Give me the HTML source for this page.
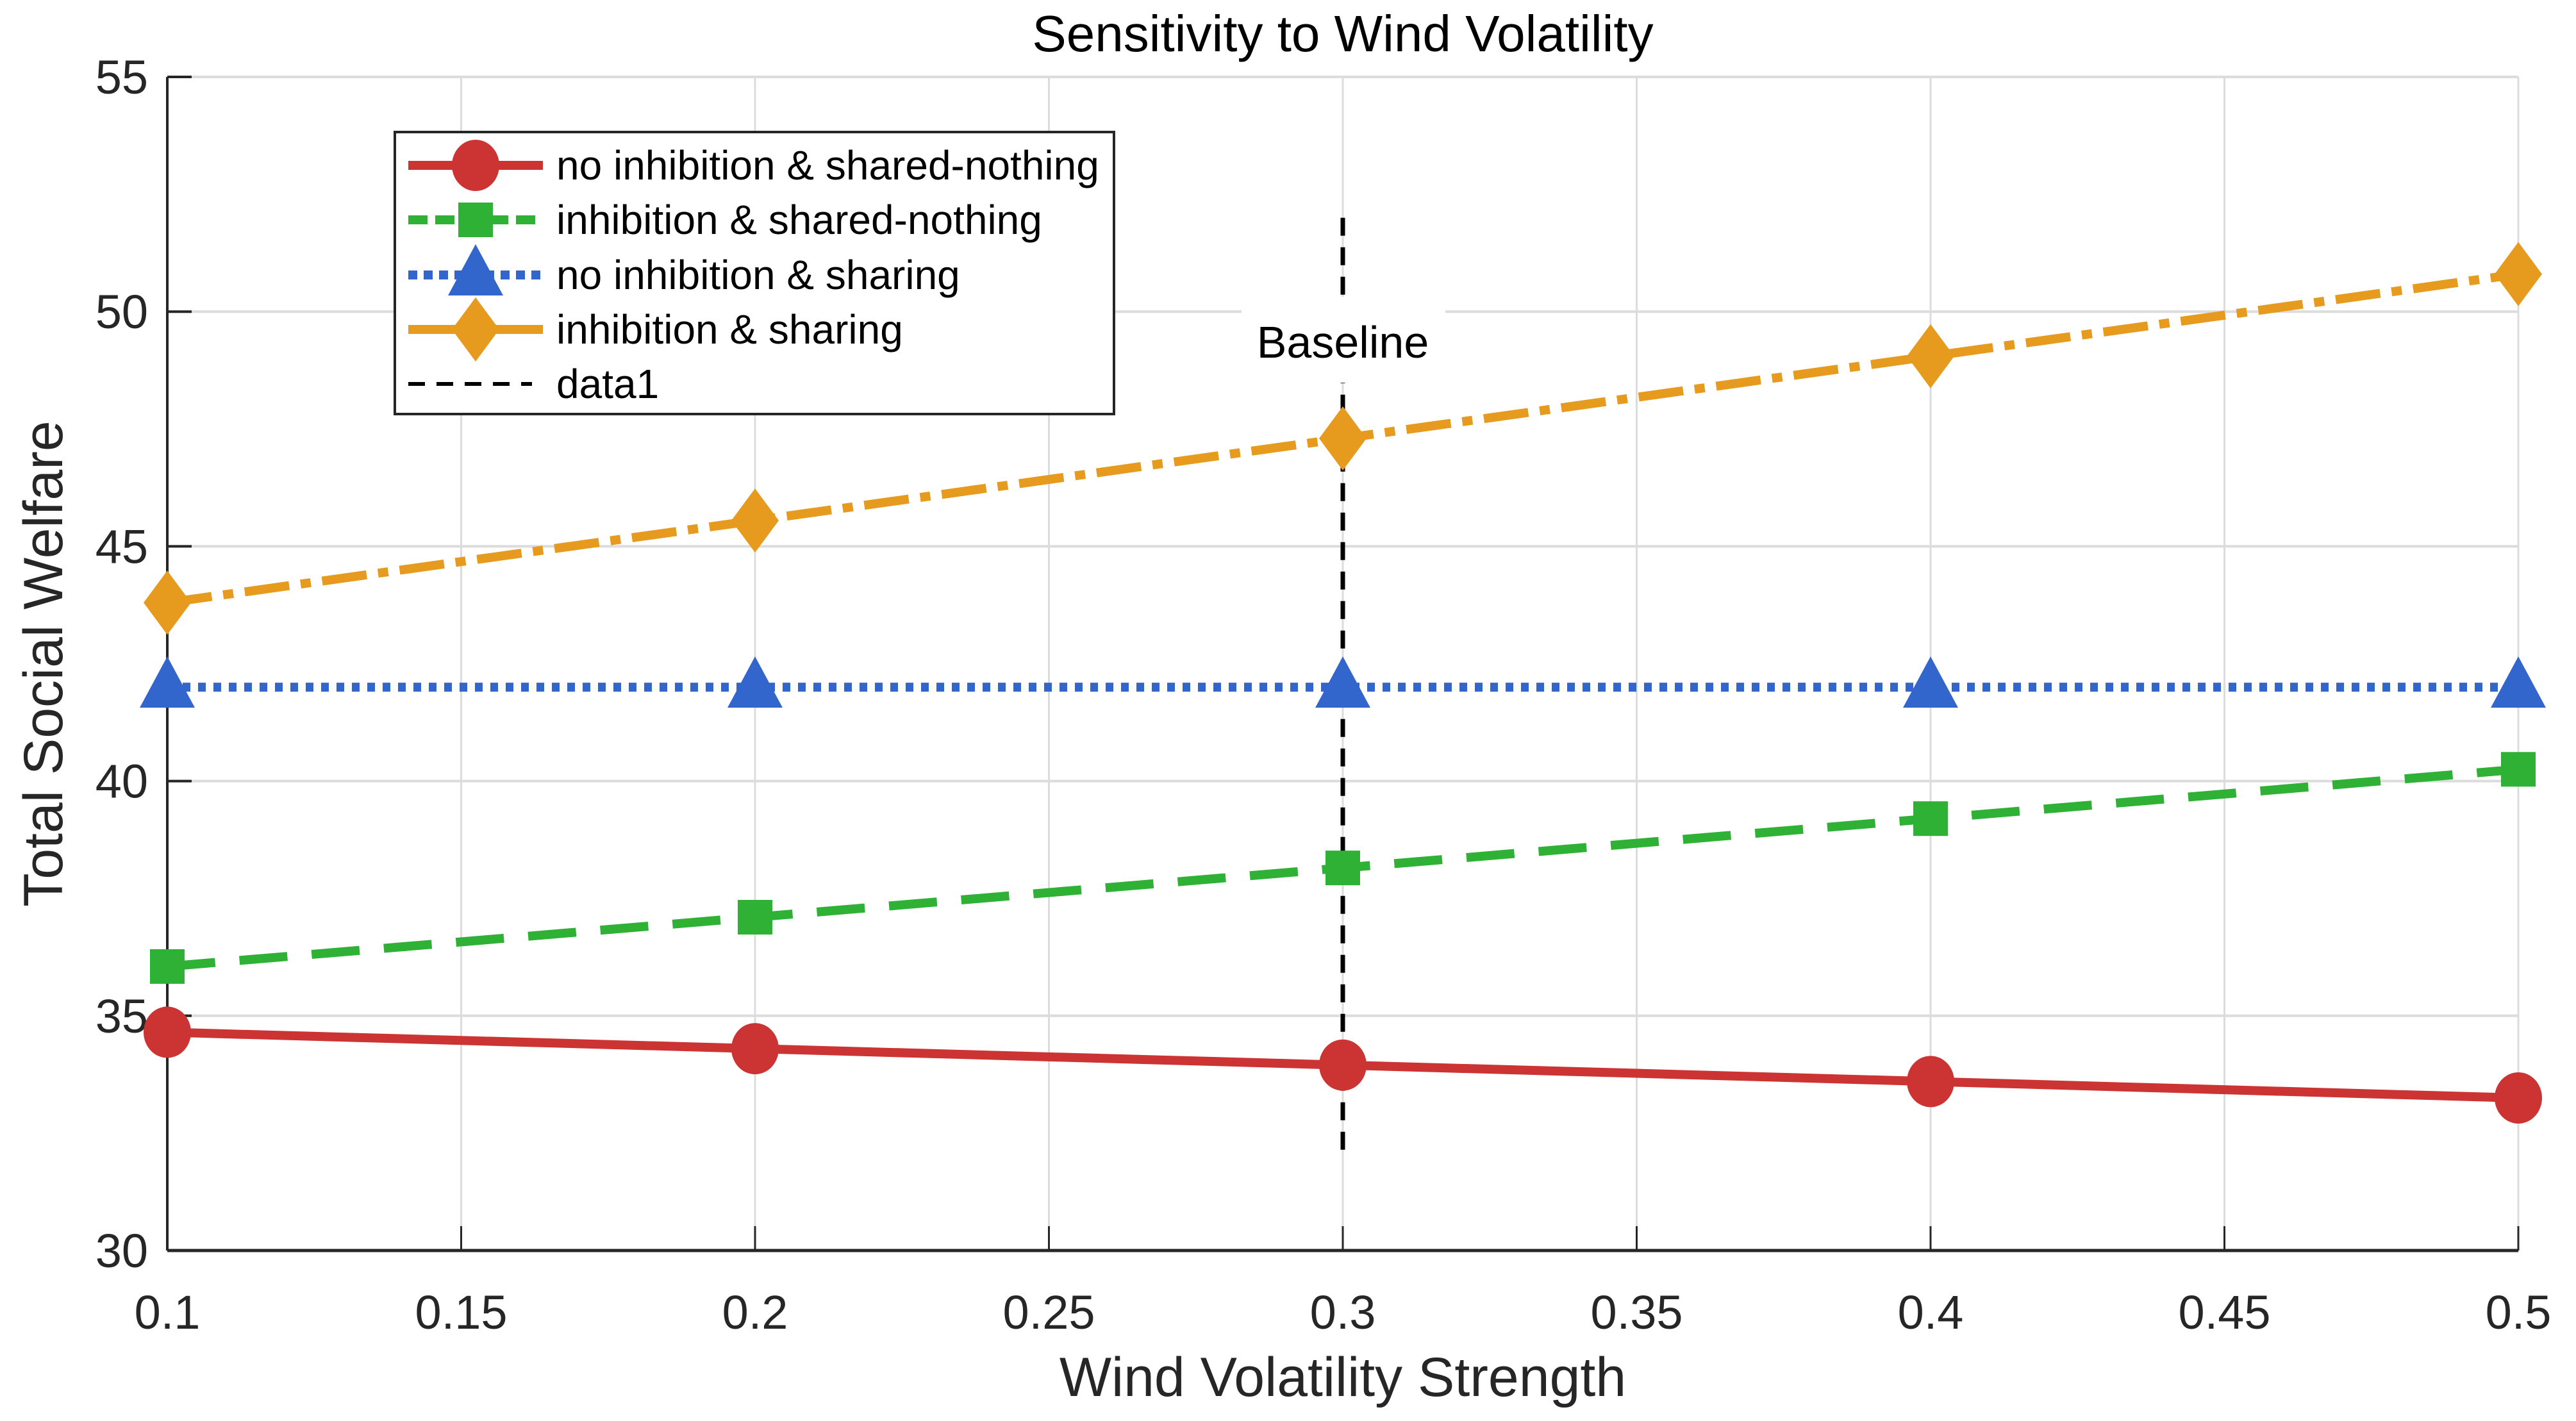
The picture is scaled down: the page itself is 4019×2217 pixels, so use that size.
<!DOCTYPE html>
<html><head><meta charset="utf-8"><style>
html,body{margin:0;padding:0;background:#fff;}
svg{display:block;font-family:"Liberation Sans",Arial,sans-serif;}
</style></head><body>
<svg id="chart" width="4019" height="2217" viewBox="0 0 4019 2217" xmlns="http://www.w3.org/2000/svg">
<g id="grid"></g>
<g id="axes"></g>
<g id="series"></g>
<g id="legend"></g>
</svg>
<script>
const xValues=[0.1,0.2,0.3,0.4,0.5];
const redValues=[34.65,34.3,33.95,33.6,33.25];
const greenValues=[36.05,37.1,38.15,39.2,40.25];
const blueValues=[42,42,42,42,42];
const orangeValues=[43.8,45.55,47.3,49.05,50.8];
const xTicks=[0.1,0.15,0.2,0.25,0.3,0.35,0.4,0.45,0.5];
const yTicks=[30,35,40,45,50,55];
const baselineX=0.3;
const baselineRange=[32,52];
const legendLabels=["no inhibition & shared-nothing","inhibition & shared-nothing","no inhibition & sharing","inhibition & sharing","data1"];

const NS="http://www.w3.org/2000/svg";
const L=261,R=3929,T=120,B=1951;
const sx=v=>L+(v-0.1)/(0.5-0.1)*(R-L);
const sy=v=>B-(v-30)/(55-30)*(B-T);
function mk(tag,attrs,parent){const e=document.createElementNS(NS,tag);for(const k in attrs)e.setAttribute(k,attrs[k]);parent.appendChild(e);return e;}
const grid=document.getElementById('grid'),axes=document.getElementById('axes'),series=document.getElementById('series'),legend=document.getElementById('legend');

xTicks.forEach(t=>{const g=mk('line',{x1:sx(t),x2:sx(t),y1:T,y2:B,stroke:'#dcdcdc','stroke-width':3},grid);

});
yTicks.forEach(t=>{const g=mk('line',{x1:L,x2:R,y1:sy(t),y2:sy(t),stroke:'#dcdcdc','stroke-width':4},grid);

});

mk('line',{x1:L,x2:L,y1:T,y2:B,stroke:'#262626','stroke-width':4},axes);
mk('line',{x1:L,x2:R,y1:B,y2:B,stroke:'#262626','stroke-width':5},axes);
xTicks.forEach(t=>{mk('line',{x1:sx(t),x2:sx(t),y1:B,y2:B-38,stroke:'#262626','stroke-width':3},axes);
const tx=mk('text',{x:sx(t),y:B+122,'font-size':74,'text-anchor':'middle',fill:'#262626'},axes);tx.textContent=String(t);

});
yTicks.forEach(t=>{mk('line',{x1:L,x2:L+38,y1:sy(t),y2:sy(t),stroke:'#262626','stroke-width':4},axes);
const tx=mk('text',{x:L-30,y:sy(t)+26,'font-size':74,'text-anchor':'end',fill:'#262626'},axes);tx.textContent=String(t);

});
let t1=mk('text',{x:(L+R)/2,y:2178,'font-size':86,'text-anchor':'middle',fill:'#262626'},axes);t1.textContent='Wind Volatility Strength';


let t2=mk('text',{x:0,y:0,'font-size':86,'text-anchor':'middle',fill:'#262626',transform:`translate(97,${(T+B)/2}) rotate(-90)`},axes);t2.textContent='Total Social Welfare';


let t3=mk('text',{x:(L+R)/2,y:80,'font-size':80,'text-anchor':'middle',fill:'#000'},axes);t3.textContent='Sensitivity to Wind Volatility';



function marker(type,cx,cy,color,parent,s){
 s=s||1;let m;
 if(type==='circle')m=mk('ellipse',{cx,cy,rx:37*s,ry:40*s,fill:color},parent);
 else if(type==='square')m=mk('rect',{x:cx-27*s,y:cy-27*s,width:54*s,height:54*s,fill:color},parent);
 else if(type==='tri')m=mk('polygon',{points:`${cx},${cy-48*s} ${cx-43*s},${cy+32*s} ${cx+43*s},${cy+32*s}`,fill:color},parent);
 else m=mk('polygon',{points:`${cx},${cy-50*s} ${cx+37*s},${cy} ${cx},${cy+50*s} ${cx-37*s},${cy}`,fill:color},parent);
 return m;
}
const defs=[
 {vals:redValues,color:'#cc3333',dash:'',mk:'circle',name:'no-inhibition-shared-nothing'},
 {vals:greenValues,color:'#2eb135',dash:'75 38',mk:'square',name:'inhibition-shared-nothing'},
 {vals:blueValues,color:'#3366cc',dash:'12 12',mk:'tri',name:'no-inhibition-sharing'},
 {vals:orangeValues,color:'#e69a1e',dash:'70 18 16 18',mk:'diamond',name:'inhibition-sharing'}
];
const bl=mk('line',{x1:sx(baselineX),x2:sx(baselineX),y1:sy(baselineRange[1]),y2:sy(baselineRange[0]),stroke:'#000','stroke-width':7,'stroke-dasharray':'28 18'},series);


defs.forEach(d=>{
 const g=mk('g',{},series);
 
 
 const pts=xValues.map((x,i)=>sx(x)+','+sy(d.vals[i])).join(' ');
 const pl=mk('polyline',{points:pts,fill:'none',stroke:d.color,'stroke-width':14,'stroke-dasharray':d.dash},g);
 
 
 xValues.forEach((x,i)=>{const m=marker(d.mk,sx(x),sy(d.vals[i]),d.color,g);
 
 });
});
const bb=mk('rect',{x:1937,y:463,width:318,height:134,fill:'#fff'},series);


const bt=mk('text',{x:sx(baselineX),y:558,'font-size':70,'text-anchor':'middle',fill:'#000'},series);bt.textContent='Baseline';



const lb=mk('rect',{x:616,y:206,width:1122,height:440,fill:'#fff',stroke:'#262626','stroke-width':4},legend);


const ly=[258,343,429,514,599];
legendLabels.forEach((lab,i)=>{
 const g=mk('g',{},legend);
 
 
 if(i<4){const d=defs[i];
  mk('line',{x1:637,x2:847,y1:ly[i],y2:ly[i],stroke:d.color,'stroke-width':14,'stroke-dasharray':i===2?'14 10':(i===1?'30 12':'')},g);
  marker(d.mk,742,ly[i],d.color,g);
 } else {
  mk('line',{x1:637,x2:830,y1:ly[i],y2:ly[i],stroke:'#000','stroke-width':6,'stroke-dasharray':'26 18'},g);
 }
 const tx=mk('text',{x:868,y:ly[i]+22,'font-size':64,fill:'#000'},g);tx.textContent=lab;
 
 
});
</script>
</body></html>
